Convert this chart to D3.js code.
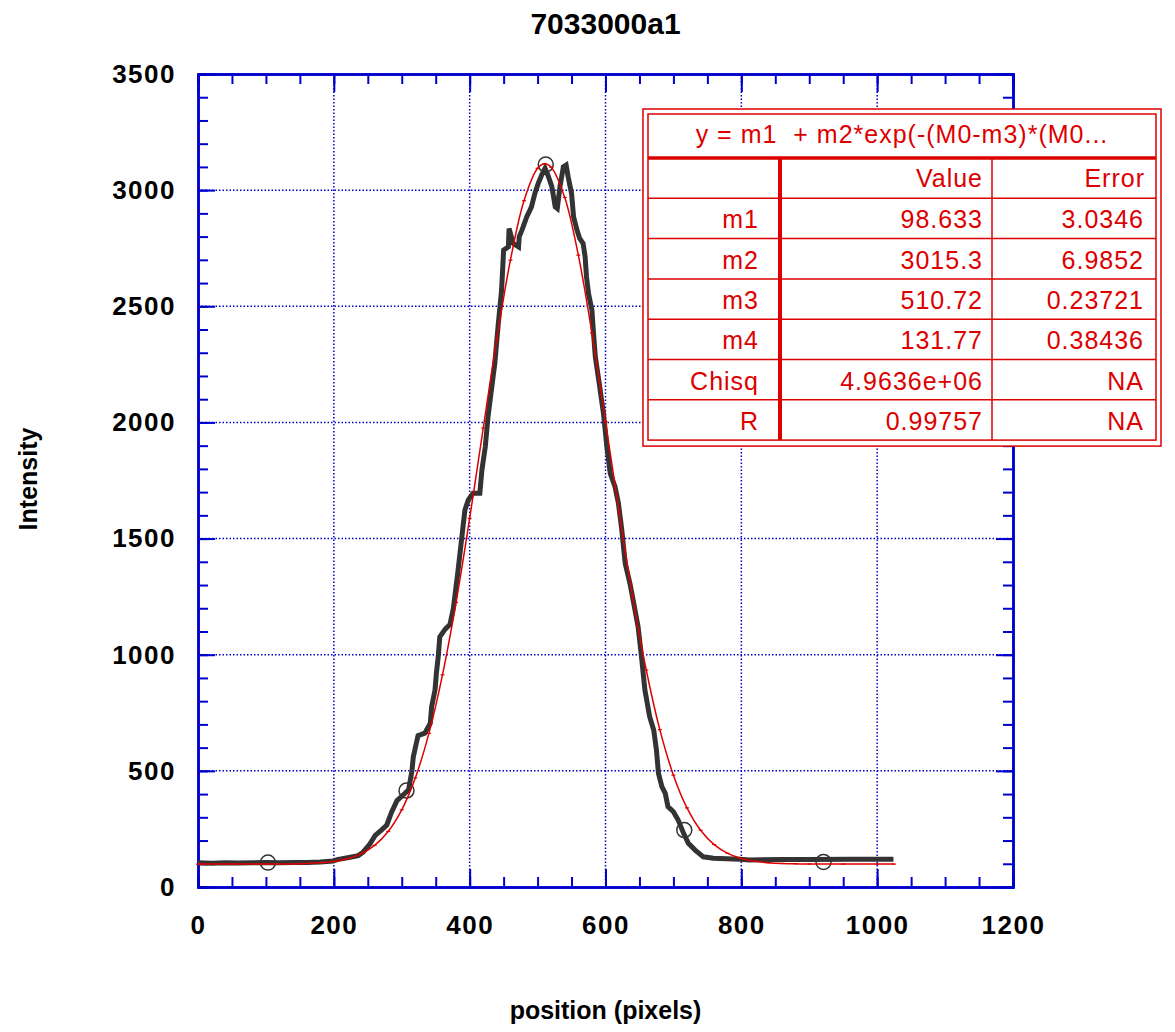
<!DOCTYPE html>
<html>
<head>
    <meta charset="UTF-8">
    <title>7033000a1</title>
    <style>
        body { margin: 0; background-color: #FFFFFF; }
        svg { display: block; background-color: #FFFFFF; }
        text { font-family: "Liberation Sans", Arial, sans-serif; white-space: pre; }
    </style>
</head>
<body>
    <div id="graph-container"></div>
    <script src="https://cdn.jsdelivr.net/npm/d3@7"></script>
    <script>
        // measured profile (black)
        let dataX = [0, 20, 40, 60, 80, 100, 120, 140, 160, 180, 199, 205, 224, 236, 243, 253, 261, 270, 278, 285,
            293, 302, 310, 315, 317, 324, 334, 342, 344, 349, 351, 354, 356, 364, 371, 376, 383, 388, 393, 398,
            405, 415, 418, 423, 427, 432, 437, 442, 447, 450, 457, 458, 464, 472, 473, 477, 484, 491, 496, 501,
            506, 511, 516, 521, 526, 529, 533, 538, 542, 545, 550, 553, 558, 562, 567, 570, 572, 575, 580, 582,
            585, 590, 597, 602, 607, 614, 619, 624, 629, 636, 641, 648, 653, 658, 665, 671, 675, 678, 683, 688,
            692, 700, 707, 715, 722, 732, 744, 759, 798, 812, 830, 860, 900, 960, 1000, 1024];
        let dataY = [104, 102, 104, 103, 104, 105, 104, 105, 106, 108, 112, 118, 128, 135, 150, 185, 222, 245, 267, 322,
            372, 396, 418, 500, 560, 652, 662, 705, 776, 848, 920, 1000, 1077, 1110, 1130, 1200, 1365, 1494, 1623, 1666,
            1695, 1695, 1795, 1895, 2024, 2140, 2254, 2420, 2570, 2742, 2756, 2835, 2771, 2756, 2800, 2828, 2885, 2928, 2986, 3029,
            3065, 3094, 3058, 3015, 2928, 2921, 3015, 3101, 3108, 3058, 2986, 2885, 2828, 2792, 2771, 2713, 2627, 2555, 2484, 2398,
            2283, 2183, 2039, 1895, 1781, 1723, 1652, 1537, 1393, 1307, 1230, 1120, 991, 848, 733, 676, 590, 489, 432, 403,
            346, 324, 288, 231, 188, 159, 130, 124, 119, 116, 117, 118, 118, 119, 119, 119];

        // open markers on the profile
        let markX = [103, 307, 512, 716, 921];
        let markY = [105, 415, 3110, 245, 108];

        // gaussian fit (red)
        let fitX = [0, 50, 100, 150, 200, 220, 240, 260, 280, 300, 320, 340, 360, 380, 400, 420, 440, 460, 480, 500,
            510, 520, 540, 560, 580, 600, 620, 640, 660, 680, 700, 720, 740, 760, 780, 800, 820, 840, 860, 880,
            900, 950, 1000, 1025];
        let fitY = [98.6, 98.6, 98.8, 100.3, 110.2, 121.8, 142.9, 179.3, 239.1, 332.3, 469.8, 661.4, 913.6, 1225.6, 1587.0, 1975.7, 2359.3, 2698.7, 2954.4, 3094.0,
            3113.9, 3099.0, 2968.6, 2720.3, 2385.7, 2003.9, 1614.4, 1250.2, 934.1, 677.5, 481.6, 340.6, 244.6, 182.7, 144.9, 122.9, 110.8, 104.5, 101.3, 99.8,
            99.1, 98.7, 98.6, 98.6];

        // fit results table
        let fitFormula = "y = m1  + m2*exp(-(M0-m3)*(M0...";
        let paramNames = ["m1", "m2", "m3", "m4", "Chisq", "R"];
        let paramValues = ["98.633", "3015.3", "510.72", "131.77", "4.9636e+06", "0.99757"];
        let paramErrors = ["3.0346", "6.9852", "0.23721", "0.38436", "NA", "NA"];

        let xTicks = [0, 200, 400, 600, 800, 1000, 1200];
        let yTicks = [0, 500, 1000, 1500, 2000, 2500, 3000, 3500];

        let blue = "#0000cc";
        let red = "#dd0000";

        let margin = { top: 74, right: 162, bottom: 145, left: 198 },
            width = 1175 - margin.left - margin.right,
            height = 1032 - margin.top - margin.bottom;

        let x = d3.scaleLinear().domain([0, 1200]).range([0, width]);
        let y = d3.scaleLinear().domain([0, 3500]).range([height, 0]);

        let root = d3.select("#graph-container").append("svg")
            .attr("width", 1175)
            .attr("height", 1032);

        root.append("text")
            .attr("x", margin.left + width / 2)
            .attr("y", 34)
            .attr("text-anchor", "middle")
            .attr("font-size", 30)
            .attr("font-weight", "bold")
            .text("7033000a1");

        root.append("text")
            .attr("x", margin.left + width / 2)
            .attr("y", 1019)
            .attr("text-anchor", "middle")
            .attr("font-size", 25)
            .attr("font-weight", "bold")
            .text("position (pixels)");

        root.append("text")
            .attr("transform", "translate(37,479) rotate(-90)")
            .attr("text-anchor", "middle")
            .attr("font-size", 25)
            .attr("font-weight", "bold")
            .text("Intensity");

        let svg = root.append("g")
            .attr("transform", "translate(" + margin.left + "," + margin.top + ")");

        // dotted grid
        svg.append("g").selectAll("line")
            .data(xTicks.slice(1, -1))
            .enter().append("line")
            .attr("x1", d => x(d)).attr("x2", d => x(d))
            .attr("y1", 0).attr("y2", height)
            .attr("stroke", blue).attr("stroke-width", 1.5)
            .attr("stroke-dasharray", "1.5,2");
        svg.append("g").selectAll("line")
            .data(yTicks.slice(1, -1))
            .enter().append("line")
            .attr("x1", 0).attr("x2", width)
            .attr("y1", d => y(d)).attr("y2", d => y(d))
            .attr("stroke", blue).attr("stroke-width", 1.5)
            .attr("stroke-dasharray", "1.5,2");

        // axes on all four sides, ticks pointing inward
        let xMinor = d3.range(0, 1201, 50);
        let yMinor = d3.range(0, 3501, 100);
        let fmt = d3.format("d");

        function styleAxis(g) {
            g.select(".domain").attr("stroke", blue).attr("stroke-width", 2.5);
            g.selectAll(".tick line").attr("stroke", blue).attr("stroke-width", 2);
            g.selectAll(".tick text")
                .attr("fill", "#000")
                .attr("font-size", 26)
                .attr("font-weight", "bold")
                .attr("font-family", "'Liberation Sans', Arial, sans-serif")
                .attr("letter-spacing", 1.5);
        }

        svg.append("g").call(d3.axisLeft(y).tickValues(yMinor).tickSize(-10).tickFormat("")).call(styleAxis);
        svg.append("g").call(d3.axisLeft(y).tickValues(yTicks).tickFormat(fmt).tickSizeInner(-17).tickSizeOuter(0).tickPadding(22)).call(styleAxis);

        svg.append("g").attr("transform", "translate(" + width + ",0)")
            .call(d3.axisRight(y).tickValues(yMinor).tickSize(-10).tickFormat("")).call(styleAxis);
        svg.append("g").attr("transform", "translate(" + width + ",0)")
            .call(d3.axisRight(y).tickValues(yTicks).tickSizeInner(-17).tickSizeOuter(0).tickFormat("")).call(styleAxis);

        svg.append("g").attr("transform", "translate(0," + height + ")")
            .call(d3.axisBottom(x).tickValues(xMinor).tickSize(-10).tickFormat("")).call(styleAxis);
        svg.append("g").attr("transform", "translate(0," + height + ")")
            .call(d3.axisBottom(x).tickValues(xTicks).tickFormat(fmt).tickSizeInner(-18).tickSizeOuter(0).tickPadding(29)).call(styleAxis);

        svg.append("g")
            .call(d3.axisTop(x).tickValues(xMinor).tickSize(-10).tickFormat("")).call(styleAxis);
        svg.append("g")
            .call(d3.axisTop(x).tickValues(xTicks).tickSizeInner(-18).tickSizeOuter(0).tickFormat("")).call(styleAxis);

        // measured profile
        let profile = dataX.map((d, i) => [d, dataY[i]]);
        svg.append("path")
            .datum(profile)
            .attr("fill", "none")
            .attr("stroke", "#333333")
            .attr("stroke-width", 5)
            .attr("stroke-linejoin", "miter")
            .attr("d", d3.line().x(d => x(d[0])).y(d => y(d[1])));

        svg.selectAll(".mark")
            .data(markX.map((d, i) => [d, markY[i]]))
            .enter().append("circle")
            .attr("class", "mark")
            .attr("cx", d => x(d[0]))
            .attr("cy", d => y(d[1]))
            .attr("r", 7.5)
            .attr("fill", "none")
            .attr("stroke", "#333333")
            .attr("stroke-width", 1.5);

        // fit curve
        let fit = fitX.map((d, i) => [d, fitY[i]]);
        svg.append("path")
            .datum(fit)
            .attr("fill", "none")
            .attr("stroke", red)
            .attr("stroke-width", 1.5)
            .attr("d", d3.line().curve(d3.curveCatmullRom).x(d => x(d[0])).y(d => y(d[1])));

        svg.selectAll(".fitmark")
            .data(fit)
            .enter().append("line")
            .attr("class", "fitmark")
            .attr("x1", d => x(d[0]) - 2)
            .attr("x2", d => x(d[0]) + 2)
            .attr("y1", d => y(d[1]))
            .attr("y2", d => y(d[1]))
            .attr("stroke", red)
            .attr("stroke-width", 1.2);

        // results table (page coordinates)
        let tbl = root.append("g").attr("transform", "translate(648,114)");
        let tblW = 508, headH = 44, rowH = 40.3;
        let colX = [0, 132, 344, tblW];
        let nRows = paramNames.length + 1;
        let tblH = headH + nRows * rowH;

        tbl.append("rect")
            .attr("x", -5).attr("y", -5)
            .attr("width", tblW + 10).attr("height", tblH + 11)
            .attr("fill", "#fff")
            .attr("stroke", red).attr("stroke-width", 1.5);
        tbl.append("rect")
            .attr("width", tblW).attr("height", tblH)
            .attr("fill", "none")
            .attr("stroke", red).attr("stroke-width", 1.5);

        tbl.append("line")
            .attr("x1", 0).attr("x2", tblW)
            .attr("y1", headH).attr("y2", headH)
            .attr("stroke", red).attr("stroke-width", 3.5);

        tbl.selectAll(".rowline")
            .data(d3.range(1, nRows))
            .enter().append("line")
            .attr("x1", 0).attr("x2", tblW)
            .attr("y1", d => headH + d * rowH).attr("y2", d => headH + d * rowH)
            .attr("stroke", red).attr("stroke-width", 1.5);

        tbl.append("line")
            .attr("x1", colX[1]).attr("x2", colX[1])
            .attr("y1", headH).attr("y2", tblH)
            .attr("stroke", red).attr("stroke-width", 4);
        tbl.append("line")
            .attr("x1", colX[2]).attr("x2", colX[2])
            .attr("y1", headH).attr("y2", tblH)
            .attr("stroke", red).attr("stroke-width", 1.5);

        function cell(txt, xr, yb, anchor) {
            tbl.append("text")
                .attr("x", xr).attr("y", yb)
                .attr("text-anchor", anchor || "end")
                .attr("font-size", 25)
                .attr("letter-spacing", 1)
                .attr("fill", red)
                .text(txt);
        }

        cell(fitFormula, tblW / 2, 29, "middle");
        cell("Value", colX[2] - 9, headH + 29);
        cell("Error", colX[3] - 11, headH + 29);
        paramNames.forEach((p, i) => {
            let yb = headH + (i + 1) * rowH + 30;
            cell(p, colX[1] - 21, yb);
            cell(paramValues[i], colX[2] - 9, yb);
            cell(paramErrors[i], colX[3] - 12, yb);
        });
    </script>
</body>
</html>
